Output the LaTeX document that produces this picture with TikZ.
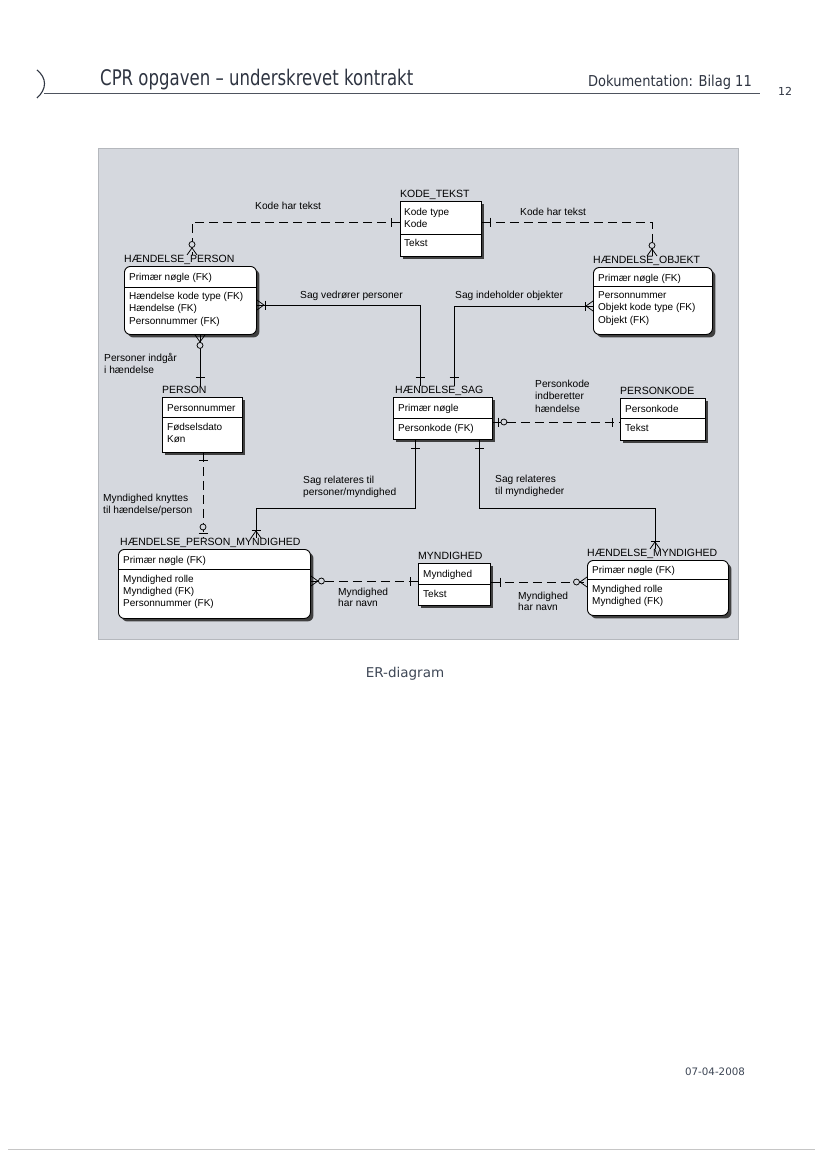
\documentclass[tikz,border=0pt]{standalone}
\usepackage{fontspec}
\setmainfont{Liberation Sans}
\newfontfamily\hdrfont{DejaVu Sans}
\definecolor{panel}{HTML}{D5D8DE}
\definecolor{hdrtxt}{HTML}{2F3542}
\definecolor{captxt}{HTML}{3E4756}
\tikzset{
  ebox/.style={draw=black, line width=0.9pt, fill=white, inner sep=0pt, anchor=north west,
    preaction={fill=black!75, transform canvas={shift={(3pt,-3pt)}}}},
  rbox/.style={ebox, rounded corners=6pt},
  etitle/.style={font=\fontsize{10.5}{12}\selectfont, inner sep=0pt, anchor=base west},
  erow/.style={font=\fontsize{10}{12}\selectfont, inner sep=0pt, anchor=base west},
  elabel/.style={font=\fontsize{10.2}{12}\selectfont, inner sep=0pt, anchor=base west},
  rel/.style={draw=black, line width=0.75pt},
  reld/.style={rel, dash pattern=on 9pt off 5pt},
  pics/erone/.style={code={\draw[rel] (#1,-4.5) -- (#1,4.5);}},
  pics/eronemany/.style={code={\draw[rel] (0,-5) -- (7,0) -- (0,5); \draw[rel] (8,-4.5) -- (8,4.5);}},
  pics/erzeromany/.style={code={\draw[rel] (0,-5) -- (7,0) -- (0,5); \draw[rel, fill=panel] (10.5,0) circle (3pt);}},
  pics/erzeroone/.style={code={\draw[rel] (5,-4.5) -- (5,4.5); \draw[rel, fill=panel] (11,0) circle (3pt);}},
}
\begin{document}
\begin{tikzpicture}[x=1pt,y=-1pt]
\useasboundingbox (0,0) rectangle (828,1169);
\fill[white] (0,0) rectangle (828,1169);

% ---------- header ----------
\draw[hdrtxt, line width=1.1pt] (37,70) .. controls (47,78) and (47,89) .. (37,98);
\draw[hdrtxt!85, line width=0.8pt] (44,93) -- (760,93);
\node[font=\hdrfont\fontsize{21.5}{24}\selectfont, text=hdrtxt, inner sep=0pt, anchor=base west] (title) at (100,86)
  {\scalebox{0.77}[1]{CPR opgaven – underskrevet kontrakt}};
\node[font=\hdrfont\fontsize{15}{17}\selectfont, text=hdrtxt, inner sep=0pt, anchor=base east] (doc) at (752,87)
  {\scalebox{0.87}[1]{Dokumentation: Bilag 11}};
\node[font=\hdrfont\fontsize{11}{13}\selectfont, text=hdrtxt, inner sep=0pt, anchor=base west] (pageno) at (778,96) {12};

% ---------- panel ----------
\fill[panel] (98,148) rectangle (738,639);
\draw[panel!85!black, line width=0.4pt] (98,148) rectangle (738,639);

% ---------- entities ----------
% KODE_TEKST
\node[ebox, minimum width=81pt, minimum height=55pt] (kt) at (400,201) {};
\draw[rel] (kt.west |- 0,234) -- (kt.east |- 0,234);
\node[etitle] (ktT) at (400,197.5) {KODE\_TEKST};
\node[erow] (kt1) at (404,215) {Kode type};
\node[erow] (kt2) at (404,227.5) {Kode};
\node[erow] (kt3) at (404,246.5) {Tekst};

% HAENDELSE_PERSON
\node[rbox, minimum width=132pt, minimum height=68pt] (hp) at (124,266) {};
\draw[rel] (hp.west |- 0,287) -- (hp.east |- 0,287);
\node[etitle] (hpT) at (124,262.5) {HÆNDELSE\_PERSON};
\node[erow] (hp1) at (129,280) {Primær nøgle (FK)};
\node[erow] (hp2) at (129,299) {Hændelse kode type (FK)};
\node[erow] (hp3) at (129,311.5) {Hændelse (FK)};
\node[erow] (hp4) at (129,324) {Personnummer (FK)};

% HAENDELSE_OBJEKT
\node[rbox, minimum width=119pt, minimum height=67pt] (ho) at (593,267) {};
\draw[rel] (ho.west |- 0,286) -- (ho.east |- 0,286);
\node[etitle] (hoT) at (593,263.5) {HÆNDELSE\_OBJEKT};
\node[erow] (ho1) at (598,281) {Primær nøgle (FK)};
\node[erow] (ho2) at (598,298) {Personnummer};
\node[erow] (ho3) at (598,310.5) {Objekt kode type (FK)};
\node[erow] (ho4) at (598,323) {Objekt (FK)};

% HAENDELSE_SAG
\node[ebox, minimum width=99pt, minimum height=42pt] (hs) at (393,397) {};
\draw[rel] (hs.west |- 0,418) -- (hs.east |- 0,418);
\node[etitle] (hsT) at (395,393.5) {HÆNDELSE\_SAG};
\node[erow] (hs1) at (398,411) {Primær nøgle};
\node[erow] (hs2) at (398,431) {Personkode (FK)};

% PERSONKODE
\node[ebox, minimum width=85pt, minimum height=42pt] (pk) at (620,398) {};
\draw[rel] (pk.west |- 0,418) -- (pk.east |- 0,418);
\node[etitle] (pkT) at (620,394.5) {PERSONKODE};
\node[erow] (pk1) at (625,412) {Personkode};
\node[erow] (pk2) at (625,431) {Tekst};

% PERSON
\node[ebox, minimum width=80pt, minimum height=55pt] (pe) at (162,397) {};
\draw[rel] (pe.west |- 0,417) -- (pe.east |- 0,417);
\node[etitle] (peT) at (162,393.5) {PERSON};
\node[erow] (pe1) at (167,411) {Personnummer};
\node[erow] (pe2) at (167,430) {Fødselsdato};
\node[erow] (pe3) at (167,442.5) {Køn};

% HAENDELSE_PERSON_MYNDIGHED
\node[rbox, minimum width=192pt, minimum height=69pt] (hpm) at (118,549) {};
\draw[rel] (hpm.west |- 0,569) -- (hpm.east |- 0,569);
\node[etitle] (hpmT) at (120,545.5) {HÆNDELSE\_PERSON\_MYNDIGHED};
\node[erow] (hpm1) at (123,563) {Primær nøgle (FK)};
\node[erow] (hpm2) at (123,582.5) {Myndighed rolle};
\node[erow] (hpm3) at (123,594.5) {Myndighed (FK)};
\node[erow] (hpm4) at (123,606.5) {Personnummer (FK)};

% MYNDIGHED
\node[ebox, minimum width=72pt, minimum height=42pt] (my) at (418,563) {};
\draw[rel] (my.west |- 0,584) -- (my.east |- 0,584);
\node[etitle] (myT) at (418,559.5) {MYNDIGHED};
\node[erow] (my1) at (423,577) {Myndighed};
\node[erow] (my2) at (423,597.5) {Tekst};

% HAENDELSE_MYNDIGHED
\node[rbox, minimum width=141pt, minimum height=55pt] (hm) at (587,560) {};
\draw[rel] (hm.west |- 0,579) -- (hm.east |- 0,579);
\node[etitle] (hmT) at (587,556.5) {HÆNDELSE\_MYNDIGHED};
\node[erow] (hm1) at (592,573) {Primær nøgle (FK)};
\node[erow] (hm2) at (592,592.5) {Myndighed rolle};
\node[erow] (hm3) at (592,604.5) {Myndighed (FK)};

% ---------- relationships ----------
\draw[reld] (kt.west |- 0,222) -| (192,0 |- hpT.north);
\draw[reld] (kt.east |- 0,222) -| (652,0 |- hoT.north);
\draw[rel] (hp.east |- 0,305) -| (420,0 |- hsT.north);
\draw[rel] (ho.west |- 0,306) -| (454,0 |- hsT.north);
\draw[rel] (200,0 |- hp.south) -- (200,0 |- peT.north);
\draw[reld] (hs.east |- 0,422) -- (pk.west |- 0,422);
\draw[rel] (415,0 |- hs.south) |- (256,508) -- (256,0 |- hpmT.north);
\draw[rel] (479,0 |- hs.south) |- (655,508) -- (655,0 |- hmT.north);
\draw[reld] (203,0 |- pe.south) -- (203,0 |- hpmT.north);
\draw[reld] (hpm.east |- 0,581) -- (my.west |- 0,581);
\draw[reld] (my.east |- 0,582) -- (hm.west |- 0,582);

% cardinality symbols
\pic[rotate=180] at (kt.west |- 0,222) {erone=9};
\pic[rotate=90] at (192,0 |- hpT.north) {erzeromany};
\pic at (kt.east |- 0,222) {erone=8};
\pic[rotate=90] at (652,0 |- hoT.north) {erzeromany};
\pic at (hp.east |- 0,305) {eronemany};
\pic[rotate=90] at (420,0 |- hsT.north) {erone=9};
\pic[rotate=180] at (ho.west |- 0,306) {eronemany};
\pic[rotate=90] at (454,0 |- hsT.north) {erone=9};
\pic[rotate=-90] at (200,0 |- hp.south) {erzeromany};
\pic[rotate=90] at (200,0 |- peT.north) {erone=9};
\pic at (hs.east |- 0,422) {erzeroone};
\pic[rotate=180] at (pk.west |- 0,422) {erone=8};
\pic[rotate=-90] at (415,0 |- hs.south) {erone=8};
\pic[rotate=90] at (256,0 |- hpmT.north) {eronemany};
\pic[rotate=-90] at (479,0 |- hs.south) {erone=8};
\pic[rotate=90] at (655,0 |- hmT.north) {eronemany};
\pic[rotate=-90] at (203,0 |- pe.south) {erone=7};
\pic[rotate=90] at (203,0 |- hpmT.north) {erzeroone};
\pic at (hpm.east |- 0,581) {erzeromany};
\pic[rotate=180] at (my.west |- 0,581) {erone=8};
\pic at (my.east |- 0,582) {erone=9};
\pic[rotate=180] at (hm.west |- 0,582) {erzeromany};

% relationship labels
\node[elabel] (la) at (255,209) {Kode har tekst};
\node[elabel] (lb) at (520,215) {Kode har tekst};
\node[elabel] (lc) at (300,298) {Sag vedrører personer};
\node[elabel] (ld) at (455,298) {Sag indeholder objekter};
\node[elabel] (le1) at (104,361) {Personer indgår};
\node[elabel] (le2) at (104,373) {i hændelse};
\node[elabel] (lf1) at (535,387) {Personkode};
\node[elabel] (lf2) at (535,399.5) {indberetter};
\node[elabel] (lf3) at (535,412) {hændelse};
\node[elabel] (lg1) at (303,483) {Sag relateres til};
\node[elabel] (lg2) at (303,495) {personer/myndighed};
\node[elabel] (lh1) at (495,482) {Sag relateres};
\node[elabel] (lh2) at (495,494) {til myndigheder};
\node[elabel] (li1) at (103,501) {Myndighed knyttes};
\node[elabel] (li2) at (103,513) {til hændelse/person};
\node[elabel] (lj1) at (338,595) {Myndighed};
\node[elabel] (lj2) at (338,606) {har navn};
\node[elabel] (lk1) at (518,599) {Myndighed};
\node[elabel] (lk2) at (518,610) {har navn};

% ---------- caption, date, footer ----------
\node[font=\hdrfont\fontsize{13.5}{16}\selectfont, text=captxt, inner sep=0pt, anchor=base] (cap) at (405,677) {ER-diagram};
\node[font=\hdrfont\fontsize{10.3}{12}\selectfont, text=captxt, inner sep=0pt, anchor=base] (date) at (715,1075) {07-04-2008};
\draw[gray!45, line width=1pt] (8,1149) -- (815,1149);
\end{tikzpicture}
\end{document}
